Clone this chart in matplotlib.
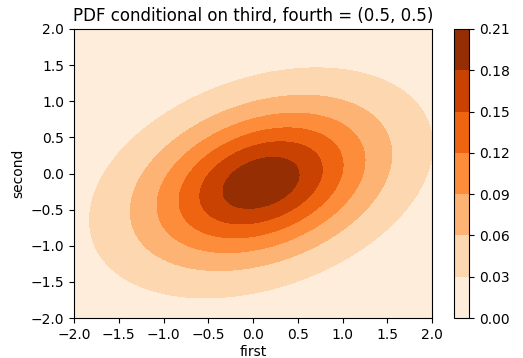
import numpy as np
import matplotlib
matplotlib.use("Agg")
import matplotlib.pyplot as plt

# Conditional distribution parameters (bivariate Student-t)
mean = [0.09, -0.13]
cov = [[1.0, 0.27],
       [0.27, 0.69]]
dof = 6
levels = [0.00, 0.03, 0.06, 0.09, 0.12, 0.15, 0.18, 0.21]
x_range = [-2.0, 2.0]
y_range = [-2.0, 2.0]

x = np.linspace(x_range[0], x_range[1], 400)
y = np.linspace(y_range[0], y_range[1], 400)
X, Y = np.meshgrid(x, y)
S = np.array(cov)
Sinv = np.linalg.inv(S)
dx = X - mean[0]
dy = Y - mean[1]
q = Sinv[0, 0] * dx**2 + 2 * Sinv[0, 1] * dx * dy + Sinv[1, 1] * dy**2
peak = 1.0 / (2 * np.pi * np.sqrt(np.linalg.det(S)))
Z = peak * (1 + q / dof) ** (-(dof + 2) / 2)

fig = plt.figure(figsize=(5.23, 3.58), dpi=100)
W, H = 523, 358
ax = fig.add_axes([74 / W, 1 - 318 / H, (432 - 74) / W, (318 - 29) / H])
cax = fig.add_axes([454 / W, 1 - 318 / H, (469 - 454) / W, (318 - 29) / H])

cs = ax.contourf(X, Y, Z, levels=levels, cmap="Oranges")
ax.set_xlim(x_range)
ax.set_ylim(y_range)
ax.set_xticks(np.arange(-2.0, 2.01, 0.5))
ax.set_yticks(np.arange(-2.0, 2.01, 0.5))
ax.set_xlabel("first", labelpad=2)
ax.set_ylabel("second")
ax.set_title("PDF conditional on third, fourth = (0.5, 0.5)")

cb = fig.colorbar(cs, cax=cax)
cb.set_ticks(levels)

fig.savefig("out.png", dpi=100)
